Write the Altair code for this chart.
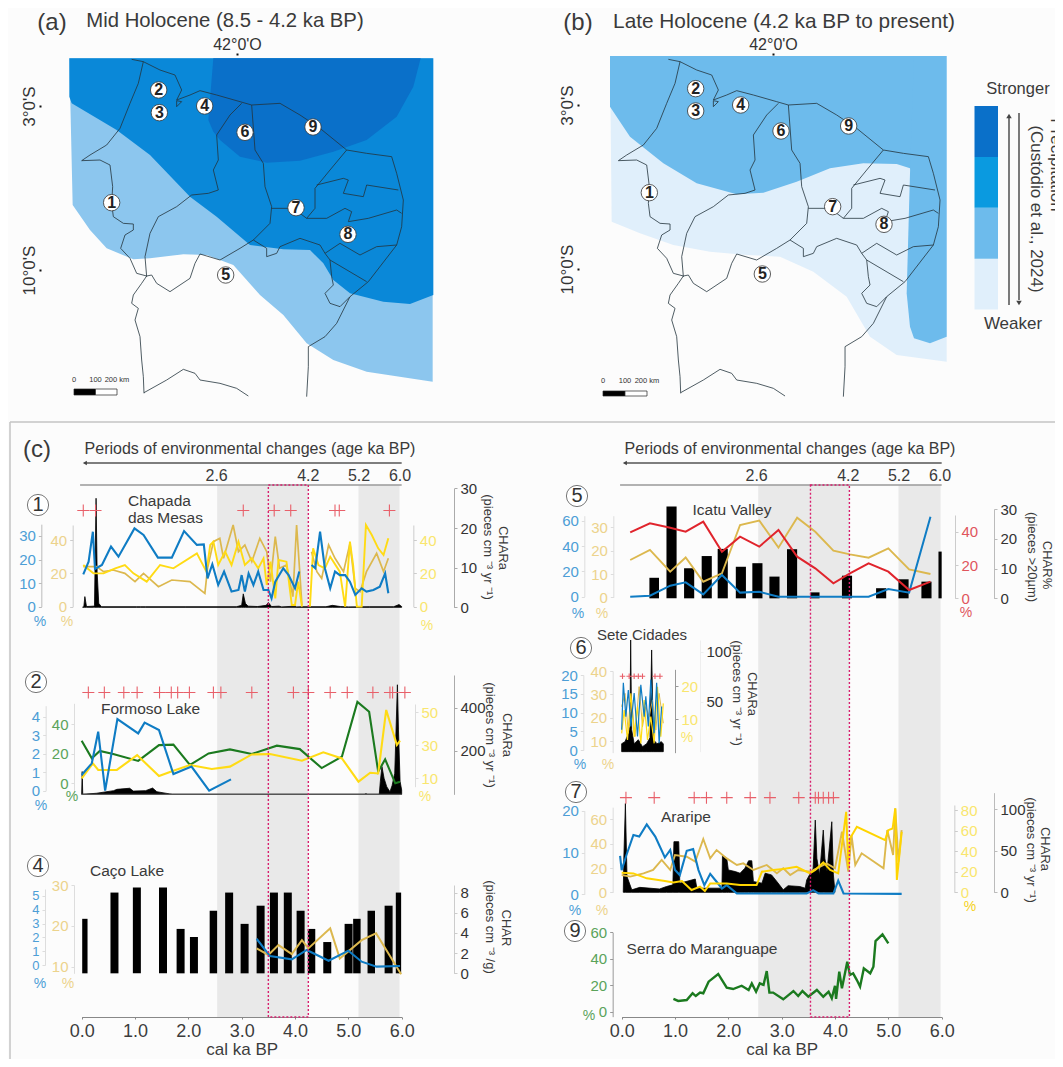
import altair as alt
import pandas as pd

W, H = 1047, 1051
FONT = "Liberation Sans"

# ---------- colours ----------
C_BLUE, C_OCHRE, C_YEL, C_RED, C_GREEN = "#0f7cc4", "#dcb84e", "#ffdb14", "#e0242c", "#1b7a1f"
L_BLUE, L_OCHRE, L_YEL, L_RED, L_GREEN = "#4d9ed6", "#ecd38c", "#f9e66e", "#e0555c", "#5aa35a"
Z_DARK, Z_MID, Z_LIGHT, Z_PALE, Z_MID_B = "#0a70c9", "#0a88d8", "#8cc6ee", "#e0effb", "#6dbbec"

# ---------- map: zone outlines (map grid units) ----------
A_LIGHT_X = [208, 218, 270, 320, 400, 450, 550, 620, 700, 780, 850, 920, 1000, 1100, 1298]
A_LIGHT_B = [175, 615, 690, 745, 778, 775, 763, 765, 795, 885, 945, 1030, 1080, 1115, 1145]
A_MID_X = [208, 215, 350, 450, 570, 650, 750, 850, 930, 970, 1000, 1050, 1150, 1230, 1300]
A_MID_B = [290, 310, 390, 465, 590, 650, 735, 748, 750, 790, 840, 880, 905, 912, 885]
A_DARK_X = [625, 640, 660, 720, 800, 900, 1000, 1100, 1190, 1240, 1262]
A_DARK_T = [360, 175, 175, 175, 175, 175, 175, 175, 175, 175, 175]
A_DARK_B = [360, 395, 420, 470, 488, 482, 455, 420, 350, 260, 175]
B_PALE_X = [240, 245, 330, 430, 540, 650, 750, 850, 950, 1020, 1100, 1250]
B_PALE_B = [168, 665, 700, 735, 755, 765, 770, 815, 890, 1010, 1065, 1085]
B_MID_X = [240, 300, 400, 500, 620, 700, 800, 900, 1000, 1100, 1140, 1152]
B_MID_B = [320, 410, 490, 550, 583, 578, 545, 505, 490, 492, 505, 530]
B_EAST_X = [1130, 1140, 1152, 1200, 1250]
B_EAST_T = [880, 520, 168, 168, 168]
B_EAST_B = [880, 980, 1015, 1030, 1010]

# ---------- map: boundaries (map grid units) ----------
BOUNDARIES = [
    [(430, 185), (415, 250), (390, 310), (360, 385), (320, 435), (270, 465), (245, 482)],
    [(245, 482), (300, 480), (330, 495), (338, 560), (335, 610), (340, 650), (370, 670), (400, 672), (400, 690), (375, 705), (362, 745), (390, 775), (410, 820), (440, 828)],
    [(440, 828), (425, 850), (400, 885), (395, 910), (415, 925), (405, 960), (420, 1010), (425, 1080), (430, 1130), (432, 1180)],
    [(432, 1178), (500, 1140), (550, 1108), (585, 1120), (600, 1140), (660, 1150), (710, 1165), (745, 1188)],
    [(395, 178), (430, 185), (480, 210), (525, 225), (545, 270), (530, 300), (570, 285), (600, 272), (650, 285), (720, 305), (755, 315), (840, 310), (900, 345), (960, 385), (1040, 450), (1100, 460), (1175, 470), (1190, 520), (1210, 600), (1205, 680), (1190, 735), (1105, 845), (1050, 890), (1010, 970), (975, 1010), (925, 1040), (925, 1100), (920, 1190)],
    [(725, 310), (690, 345), (650, 405), (655, 480), (640, 510), (655, 570), (625, 580), (575, 585), (530, 620), (475, 650), (450, 700), (435, 770), (440, 830)],
    [(755, 315), (765, 450), (790, 490), (795, 560), (815, 620), (810, 670), (760, 720), (720, 745), (660, 780), (600, 762), (585, 790), (570, 835), (510, 875), (470, 850), (455, 825), (440, 828)],
    [(815, 625), (880, 625), (920, 655), (945, 625), (945, 565), (990, 510), (1040, 450)],
    [(950, 555), (1030, 535), (1045, 540), (1030, 580), (1090, 590), (1100, 555), (1195, 570)],
    [(920, 655), (980, 655), (1035, 625), (1055, 635), (1045, 665), (1105, 655), (1190, 630), (1205, 640)],
    [(760, 720), (800, 745), (800, 770), (830, 760), (840, 740), (900, 715), (960, 735), (975, 760), (1020, 730), (1080, 765), (1130, 740), (1190, 735)],
    [(975, 760), (990, 780), (1100, 845)],
    [(990, 780), (995, 830), (1000, 855), (975, 880), (990, 910), (1020, 920), (1050, 890)],
    [(530, 320), (545, 305), (530, 302), (530, 320)],
]

SITE_IDS = ["1", "2", "3", "4", "5", "6", "7", "8", "9"]
SITES_A_X = [335, 476, 478, 614, 677, 735, 888, 1044, 939]
SITES_A_Y = [608, 270, 338, 318, 825, 397, 623, 703, 381]
SITES_B_X = [358, 497, 497, 632, 697, 753, 908, 1062, 956]
SITES_B_Y = [578, 266, 333, 315, 822, 393, 620, 673, 378]

# ---------- (1) Chapada das Mesas ----------
P1_BLUE_T = [.03, .13, .21, .25, .38, .55, .69, .99, 1.16, 1.43, 1.69, 1.92, 2.16, 2.29, 2.36, 2.45, 2.56, 2.67, 2.81, 2.94, 3.0, 3.06, 3.13, 3.22, 3.31, 3.41, 3.5, 3.56, 3.63, 3.78, 3.88, 4.0, 4.08, None, 4.31, 4.38, 4.47, 4.56, 4.66, 4.75, 4.84, 4.94, 5.03, 5.13, 5.25, 5.34, 5.47, 5.59, 5.69, 5.75]
P1_BLUE = [13.7, 19.1, 31.8, 16, 17.7, 25.5, 21.2, 33.2, 30.4, 20.8, 20.8, 32.1, 26.2, 26.4, 12, 18, 9.2, 14.9, 6.4, 7.1, 13.4, 6.4, 14.1, 9.2, 14.9, 7.1, 7.1, 3.5, 10.6, 16.3, 13.4, 7.8, 14.9, None, 17.7, 16.3, 31.8, 16.3, 7.8, 14.9, 13.4, 13.4, 10.6, 5, 7.8, 6.4, 7.1, 8.5, 14.1, 5.7]
P1_OCHRE_T = [.03, .28, .41, .59, .81, 1.0, 1.16, 1.44, 1.69, 2.03, 2.31, 2.36, 2.47, 2.59, 2.66, 2.84, 2.94, 3.06, 3.19, 3.34, 3.47, 3.54, 3.63, 3.71, 3.84, 3.96, 4.03, 4.13, None, 4.31, 4.41, 4.5, 4.63, 4.75, 4.91, 5.03, 5.13, 5.22, 5.34, 5.53, 5.66, 5.75]
P1_OCHRE = [24, 24, 21, 22, 20, 15, 20, 12, 16, 15, 8, 23, 39, 41, 29, 49, 33, 37, 27, 41, 33, 15, 42, 23, 25, 6, 49, 1, None, 33, 21, 17, 37, 29, 21, 38, 11, 9, 21, 32, 21, 29]
P1_YEL_T = [.03, .22, .41, .63, .81, .97, 1.22, 1.47, 1.72, 2.16, 2.34, 2.41, 2.47, 2.56, 2.69, 2.81, 2.94, 3.06, 3.19, 3.31, 3.41, 3.47, 3.54, 3.63, 3.69, 3.84, 3.94, 4.0, 4.06, 4.13, None, 4.28, 4.34, 4.44, 4.56, 4.66, 4.84, 4.94, 5.03, 5.09, 5.16, 5.25, 5.33, 5.44, 5.56, 5.66, 5.75]
P1_YEL = [25, 20, 20, 23, 25, 20, 15, 25, 23, 32, 21, 37, 39, 25, 33, 25, 39, 25, 29, 23, 29, 13, 27, 5, 28, 27, 1, 1, 15, 0, None, 0, 35, 25, 23, 30, 21, 0, 39, 25, 0, 0, 49, 43, 35, 31, 41]
P1_CHAR_T = [.02, .04, .06, .09, .22, .24, .27, .29, .32, .37, 1.03, None, 1.1, 1.2, None, 1.94, 2.9, 3.0, 3.03, 3.07, 3.12, 3.3, 3.46, 3.5, 3.56, 3.7, 3.75, 4.0, 4.03, 4.13, None, 4.58, 4.7, 4.85, 5.0, None, 5.4, 5.85, 5.95, 6.0]
P1_CHAR = [.1, .1, 2.7, .2, .3, .4, 27.5, 9, 1, .15, .15, None, .15, .15, None, .15, .15, .5, 3.4, 1, .3, .2, .5, 1.2, .2, .3, .1, .3, .1, .15, None, .15, .5, .2, .1, None, .15, .15, .7, .2]
P1_DATES = [.03, .26, 3.03, 3.61, 3.92, 4.75, 4.83, 5.77]

# ---------- (2) Formoso Lake ----------
P2_BLUE_T = [0, .19, .31, .44, .67, 1.06, 1.18, 1.45, 1.72, 2.06, 2.39, 2.8]
P2_BLUE = [.85, 1.48, 3.19, 0, 3.87, 3.1, 3.68, 3.28, .9, 1.3, 0, .61]
P2_GREEN_T = [0, .19, .34, .59, 1.06, 1.45, 1.72, 2.03, 2.38, 2.78, 3.19, 3.66, 4.09, 4.5, 4.88, 5.17, 5.39, 5.56, 5.69, 5.88, 5.97]
P2_GREEN = [28.8, 16.9, 21.8, 19.8, 15.1, 25.8, 26.1, 12.4, 20.2, 22.9, 19.8, 25.4, 23.1, 10.3, 18, 55, 48.3, 7.9, 16.2, 0, 1.1]
P2_YEL_T = [0, .21, .31, .66, 1.04, 1.45, 1.72, 2.03, 2.44, 2.78, 3.19, 3.53, 4.13, 4.53, 4.88, 5.19, 5.41, 5.56, 5.71, 5.91, 5.97]
P2_YEL = [10, 19.1, 15.1, 15.1, 24.1, 11.4, 14.6, 18.1, 15.7, 17.1, 24.5, 24.7, 20.7, 25.8, 22.1, 8, 13.4, 13, 51.4, 30.2, 32.8]
P2_CHAR_T = [0, .01, .02, .28, .6, .66, .9, .97, 1.2, 1.33, 1.41, 1.65, 1.7, 5.3, 5.33, 5.36, 5.58, 5.6, 5.63, 5.67, 5.72, 5.78, 5.82, 5.87, 5.92, 5.94, 5.97, 6.0]
P2_CHAR = [0, 105, 0, 5, 17, 23, 28, 15, 17, 29, 12, 2, 0, 0, 3, 0, 0, 60, 128, 74, 35, 12, 40, 97, 505, 297, 60, 20]
P2_DATES = [.125, .425, .79, 1.04, 1.46, 1.68, 1.8, 2.02, 2.47, 2.61, 3.19, 3.97, 4.25, 4.66, 4.98, 5.46, 5.78, 5.83, 6.06]

# ---------- (4) Caco Lake ----------
P4_BAR_T0 = [.01, .54, .96, 1.45, 1.78, 2.03, 2.4, 2.69, 2.98, 3.28, 3.53, 3.79, 4.03, 4.24, 4.53, 4.93, 5.09, 5.36, 5.68, 5.89]
P4_BAR_T1 = [.11, .69, 1.11, 1.6, 1.93, 2.18, 2.54, 2.84, 3.13, 3.43, 3.68, 3.94, 4.18, 4.38, 4.68, 5.08, 5.23, 5.5, 5.83, 5.99]
P4_CHAR = [5.4, 8, 8.5, 8.5, 4.4, 3.6, 6.2, 8, 4.9, 6.7, 8, 8, 6.2, 4.4, 3.1, 4.9, 5.4, 6.2, 6.7, 8]
P4_BLUE_T = [3.28, 3.53, 3.94, 4.22, 4.63, 5.0, 5.25, 5.53, 5.97]
P4_BLUE = [1.9, .65, .41, 1.09, .31, 1.04, .24, -.12, -.07]
P4_OCHRE_T = [3.28, 3.5, 3.69, 3.94, 4.13, 4.25, 4.66, 4.84, 5.25, 5.52, 5.99]
P4_OCHRE = [14.5, 12.9, 15.3, 13.1, 16.5, 14.5, 19.4, 12, 16.5, 18.2, 8.2]

# ---------- (5) Icatu Valley ----------
P5_BAR_T0 = [.52, .84, 1.17, 1.5, 1.8, 2.14, 2.45, 2.77, 3.1, 3.54, 4.13, 4.77, 5.19, 5.62, 5.94]
P5_BAR_T1 = [.7, 1.03, 1.36, 1.69, 1.99, 2.33, 2.64, 2.96, 3.29, 3.71, 4.32, 4.96, 5.38, 5.81, 6.0]
P5_CHAR = [6.9, 30.8, 10.1, 14.2, 16.6, 10.6, 11.8, 7.3, 16.5, 2, 7.6, 3.4, 6.4, 5.6, 15.7]
P5_T = [.16, .53, .91, 1.2, 1.53, 1.88, 2.22, 2.58, 2.94, 3.29, 3.63, 3.97, 4.28, 4.63, 5.0, 5.39, 5.79]
P5_RED = [39.6, 45, 42.4, 40, 46, 28, 37, 31, 41, 25, 18, 9, 15, 21, 16, 5, 10]
P5_OCHRE = [16, 20.3, 11, 17.1, 6.7, 10.3, 31, 32.9, 21.3, 34.1, 28.1, 20, 18.4, 17, 21, 12, 10]
P5_BLUE = [0, .8, 8.7, 11.3, 1.8, 17.1, 3.2, 3.9, 0, 0, 0, 0, 0, 0, 6.1, 3.2, 63.2]

# ---------- (6) Sete Cidades ----------
P6_BLUE_T = [0, .04, .1, .16, .22, .3, .38, .46, .54, .58, .64, .7, .78, .84, .9, .96]
P6_BLUE = [5.4, 17.9, 8.9, 16, 6.3, 15.2, 3.6, 17.4, 8.9, 14.3, 6.3, 18.8, 4.5, 17.9, 1.8, 11.6]
P6_OCHRE_T = [0, .08, .16, .24, .32, .42, .5, .58, .66, .74, .82, .9, 1]
P6_OCHRE = [24.7, 30.4, 13.3, 27.6, 11.9, 33.3, 16.1, 24.7, 20.4, 27.6, 14.7, 30.4, 17.6]
P6_YEL_T = [0, .06, .14, .22, .3, .38, .46, .54, .62, .7, .78, .86, .94, 1]
P6_YEL = [5.8, 12.8, 3.8, 17.8, 4.8, 13.8, 2.8, 15.8, 3.8, 10.8, 2.8, 19.8, 4.8, 14.8]
P6_CHAR_T = [0, .08, .16, .2, .216, .24, .3, .4, .5, .6, .68, .72, .76, .85, .95, 1]
P6_CHAR = [8, 10, 18, 25, 112, 22, 8, 12, 5, 8, 14, 102, 12, 8, 10, 8]
P6_DATES = [.02, .18, .3, .4, .5, .8, .92]

# ---------- (7) Araripe ----------
P7_BLUE_T = [-.03, 0, .09, .22, .33, .47, .63, .81, .91, 1, 1.09, 1.22, 1.34, 1.44, 1.55, 1.66, 1.78, 1.88, 1.97, 2.16, 2.53, 2.84, 3.47, 3.59, 3.69, 3.97, 4.06, 4.16, 5.25]
P7_BLUE = [9.2, 5.8, 9.4, 14.2, 13.8, 16.7, 13.8, 8.8, 10.6, 5.8, 4.6, 10.4, 10.8, 5.8, 2.2, 4.9, 3, 1.4, 2.2, .2, .2, .2, .2, 1, .2, .2, 3.3, .2, .1]
P7_OCHRE_T = [0, .16, .41, .59, .75, .91, 1, 1.22, 1.38, 1.53, 1.66, 1.78, 1.97, 2.16, 2.28, 2.47, 2.72, 2.91, 3.03, 3.16, 3.31, 3.53, 3.66, 3.84, 4, 4.13, 4.25, 4.31, 4.38, 4.5, 4.91, 4.98, 5.09, 5.13, 5.19, 5.25]
P7_OCHRE = [14.2, 12.9, 15.6, 18.4, 26.6, 18.4, 30.7, 29.3, 25.2, 43.8, 27.9, 34.8, 27.9, 22.5, 23.8, 18.4, 22.5, 15.6, 19.7, 14.2, 18.4, 17, 19.7, 23.8, 19.7, 49.9, 17, 47.1, 22.5, 32.1, 19.7, 51.2, 30.7, 69, 25.2, 51.2]
P7_YEL_T = [0, .22, .47, .81, .97, 1.13, 1.31, 1.47, 1.56, 1.66, 1.97, 2.22, 2.53, 2.63, 2.84, 3.03, 3.28, 3.53, 3.63, 3.78, 3.91, 4.06, 4.21, 4.25, 4.28, 4.41, 4.94, 5, 5.08, 5.13, 5.16, 5.25]
P7_YEL = [19.1, 18.4, 13.6, 11, 9.7, 11, 2.3, 5.5, 1.3, 8.7, 8.7, 7.1, 7.1, 20.1, 21.7, 22.7, 24.9, 18.4, 21.7, 29.1, 21.7, 18.4, 78.3, 23.3, 52.4, 63.8, 50.8, 60.5, 62.1, 81.6, 12, 58.9]
P7_CHAR_T = [.03, .04, .07, .1, .19, .34, .71, .84, .96, .98, 1.07, 1.09, 1.38, 1.41, 1.88, 1.89, 1.97, 2, 2.13, 2.22, 2.31, 2.38, 2.44, 2.47, 2.63, 2.69, 2.81, 2.91, 3.03, 3.12, 3.34, 3.44, 3.47, 3.59, 3.63, 3.66, 3.71, 3.78, 3.81, 3.85, 3.94, 3.97, 4]
P7_CHAR = [0, 40, 107, 19, 3, 6, 4, 7, 9, 61, 61, 11, 16, 5, 5, 45, 41, 27, 25, 23, 29, 38, 38, 13, 11, 23, 21, 13, 3, 8, 7, 5, 15, 29, 87, 41, 21, 75, 41, 25, 85, 21, 0]
P7_DATES = [.08, .61, 1.36, 1.59, 1.97, 2.41, 2.78, 3.32, 3.63, 3.69, 3.78, 3.88, 3.97]

# ---------- (9) Serra do Maranguape ----------
P9_T = [.97, 1.06, 1.22, 1.33, 1.39, 1.47, 1.53, 1.63, 1.81, 1.97, 2.09, 2.25, 2.38, 2.44, 2.52, 2.59, 2.66, 2.72, 2.77, 2.84, 3.03, 3.22, 3.31, 3.39, 3.5, 3.66, 3.78, 3.88, 3.94, 4, 4.02, 4.08, 4.13, 4.23, 4.28, 4.34, 4.41, 4.47, 4.54, 4.66, 4.72, 4.76, 4.89, 5]
P9_GREEN = [9.6, 8.1, 8.8, 13.9, 11.8, 14.4, 13.9, 22.7, 28.5, 18.1, 17.1, 19.6, 16.4, 21.4, 15.1, 21.4, 20.2, 30.7, 14.4, 14.4, 9.3, 15.6, 11.8, 15.6, 11.3, 16.4, 11.3, 15.1, 10.1, 19.6, 9.6, 30.2, 17.6, 37.8, 27.7, 29, 23.9, 18.9, 32.7, 29, 34, 53.4, 58.4, 51.6]

TIME_TICKS = [0, 1, 2, 3, 4, 5, 6]
PERIOD_T = [2.53, 4.25, 5.2, 5.97]
PERIOD_LABELS = ["2.6", "4.2", "5.2", "6.0"]
LEGEND_EDGES = [0, 1, 2, 3, 4]
LEGEND_COLOURS = [Z_PALE, Z_MID_B, "#0a9ae0", Z_DARK]
SCALE_KM = [0, 100, 200]

# ---------- helpers ----------
layers = []
ONE = alt.Data(values=[{"a": 1}])


def linear(lo, hi, p_lo, p_hi):
    return alt.Scale(domain=[lo, hi], range=[p_lo - 8, p_hi - 8], nice=False, zero=False)


def ysc(y0, z_lo, z_hi, lo, hi):
    return linear(lo, hi, y0 + z_lo / 3, y0 + z_hi / 3)


def ax(orient, z, ox, values, color, dom=None, size=15, **kw):
    pos = ox + z / 3 - 8
    offset = -pos if orient == "left" else pos - W
    return alt.Axis(orient=orient, offset=offset, values=values, title=None, grid=False, labelColor=color,
                    tickColor=dom or color, domainColor=dom or color, labelFont=FONT, labelFontSize=size,
                    tickSize=3, labelPadding=3, domainWidth=1, format="d", labelFlush=False, labelOverlap=False, **kw)


def line(t, v, xs, ys, color, width=2.0, axis=None, opacity=1.0):
    df = pd.DataFrame({"t": t, "v": v, "i": range(len(t))})
    layers.append(alt.Chart(df).mark_line(color=color, strokeWidth=width, opacity=opacity).encode(
        x=alt.X("t:Q", scale=xs, axis=None), y=alt.Y("v:Q", scale=ys, axis=axis), order="i:Q"))


def black_area(t, v, xs, ys, axis=None):
    df = pd.DataFrame({"t": t, "v": v, "b": [None if q is None else 0 for q in v]})
    layers.append(alt.Chart(df).mark_area(color="#000000", stroke="#000000", strokeWidth=0.8, orient="vertical").encode(
        x=alt.X("t:Q", scale=xs, axis=None), y=alt.Y("v:Q", scale=ys, axis=axis), y2="b:Q"))


def bars(t0, t1, v, xs, ys, axis=None):
    df = pd.DataFrame({"t0": t0, "t1": t1, "v": v, "b": [0] * len(v)})
    layers.append(alt.Chart(df).mark_rect(color="#000000").encode(
        x=alt.X("t0:Q", scale=xs, axis=None), x2="t1:Q", y=alt.Y("v:Q", scale=ys, axis=axis), y2="b:Q"))


def crosses(t, level, xs, ys, size=144):
    df = pd.DataFrame({"t": t, "v": [level] * len(t)})
    layers.append(alt.Chart(df).mark_point(shape="M-1,0L1,0M0,-1L0,1", filled=False, stroke="#e8606a",
                                           strokeWidth=1.1, size=size, opacity=1).encode(
        x=alt.X("t:Q", scale=xs, axis=None), y=alt.Y("v:Q", scale=ys, axis=None)))


def note(text, x, y, size=15, color="#3a3a3a", angle=0, align="center"):
    layers.append(alt.Chart(ONE).mark_text(text=text, font=FONT, fontSize=size, color=color, angle=angle,
                                           align=align, baseline="middle").encode(
        x=alt.value(x - 8), y=alt.value(y - 8)))


def rule(x0, y0, x1, y1, color="#555555", width=1.2):
    layers.append(alt.Chart(ONE).mark_rule(color=color, strokeWidth=width).encode(
        x=alt.value(x0 - 8), x2=alt.value(x1 - 8), y=alt.value(y0 - 8), y2=alt.value(y1 - 8)))


def arrowhead(x, y, shape, size=30, color="#444444"):
    layers.append(alt.Chart(ONE).mark_point(shape=shape, filled=True, color=color, size=size, opacity=1).encode(
        x=alt.value(x - 8), y=alt.value(y - 8)))


def ring(label, x, y):
    layers.append(alt.Chart(ONE).mark_point(shape="circle", filled=True, fill="#ffffff", stroke="#777777",
                                            strokeWidth=1, size=450, opacity=1).encode(
        x=alt.value(x - 8), y=alt.value(y - 8)))
    note(label, x, y, size=20, color="#333333")


def zone(x, top, bottom, xs, ys, color):
    df = pd.DataFrame({"x": x, "a": top, "b": bottom})
    layers.append(alt.Chart(df).mark_area(color=color, orient="vertical", opacity=1).encode(
        x=alt.X("x:Q", scale=xs, axis=None), y=alt.Y("a:Q", scale=ys, axis=None), y2="b:Q"))


def boundaries(xs, ys):
    rows = []
    for k, seg in enumerate(BOUNDARIES):
        for i, (bx, by) in enumerate(seg):
            rows.append({"id": k, "i": i, "x": bx, "y": by})
    layers.append(alt.Chart(pd.DataFrame(rows)).mark_line(color="#23343c", strokeWidth=0.8).encode(
        x=alt.X("x:Q", scale=xs, axis=None), y=alt.Y("y:Q", scale=ys, axis=None), detail="id:N", order="i:Q"))


def sites(x, y, xs, ys):
    df = pd.DataFrame({"x": x, "y": y, "s": SITE_IDS})
    layers.append(alt.Chart(df).mark_point(shape="circle", filled=True, fill="#ffffff", stroke="#333333",
                                           strokeWidth=0.8, size=270, opacity=1).encode(
        x=alt.X("x:Q", scale=xs, axis=None), y=alt.Y("y:Q", scale=ys, axis=None)))
    layers.append(alt.Chart(df).mark_text(font=FONT, fontSize=16, fontWeight="bold", color="#222222", baseline="middle").encode(
        x=alt.X("x:Q", scale=xs, axis=None), y=alt.Y("y:Q", scale=ys, axis=None), text="s:N"))


def scale_bar(p0, p1, y0, y1, label_y):
    xs = linear(SCALE_KM[0], SCALE_KM[-1], p0, p1)
    df = pd.DataFrame({"a": SCALE_KM[:-1], "b": SCALE_KM[1:], "c": ["#000000", "#ffffff"]})
    layers.append(alt.Chart(df).mark_rect(stroke="#222222", strokeWidth=0.7).encode(
        x=alt.X("a:Q", scale=xs, axis=None), x2="b:Q", y=alt.value(y0 - 8), y2=alt.value(y1 - 8),
        color=alt.Color("c:N", scale=None)))
    df2 = pd.DataFrame({"a": SCALE_KM, "s": ["0", "100", "200 km"], "d": [0, 0, 9]})
    layers.append(alt.Chart(df2).mark_text(font=FONT, fontSize=7.5, color="#333333").encode(
        x=alt.X("a:Q", scale=xs, axis=None), xOffset=alt.XOffset("d:Q", scale=None), y=alt.value(label_y - 8), text="s:N"))


def graticule(x_tick, y3, y10, tick_x, lon_y):
    lon = linear(-43, -41, x_tick - 23.4, x_tick + 23.4)
    lat = linear(-3, -10, y3, y10)
    layers.append(alt.Chart(pd.DataFrame({"lon": [-42]})).mark_point(opacity=0).encode(
        x=alt.X("lon:Q", scale=lon, axis=alt.Axis(orient="top", offset=-(lon_y - 8), values=[-42], domain=False, grid=False,
                title=None, tickSize=2, tickColor="#111111", tickWidth=2, labelFont=FONT, labelFontSize=16,
                labelColor="#333333", labelPadding=1, labelExpr="'42°0\\'O'")),
        y=alt.value(0)))
    layers.append(alt.Chart(pd.DataFrame({"lat": [-3, -10]})).mark_point(opacity=0).encode(
        y=alt.Y("lat:Q", scale=lat, axis=alt.Axis(orient="left", offset=-(tick_x - 8), values=[-3, -10], domain=False, grid=False,
                title=None, tickSize=2, tickColor="#111111", tickWidth=2, labelFont=FONT, labelFontSize=17,
                labelColor="#333333", labelPadding=1, labelAngle=-90, labelAlign="center", labelBaseline="bottom",
                labelFlush=False, labelOverlap=False,
                labelExpr="datum.value == -3 ? '3°0\\'S' : '10°0\\'S'")),
        x=alt.value(0)))


def time_frame(xs, band_t):
    frame = linear(0, 1, 485, 1017)
    df = pd.DataFrame({"t0": band_t[0], "t1": band_t[1], "a": [0, 0], "b": [1, 1]})
    axis = alt.Axis(orient="bottom", offset=1017 - 8 - H, values=TIME_TICKS, format=".1f", title="cal ka BP", grid=False,
                    labelFont=FONT, labelFontSize=18, labelColor="#3c3c3c", titleFont=FONT, titleFontSize=17,
                    titleFontWeight="normal", titleColor="#3c3c3c", titlePadding=1, tickSize=2, tickColor="#888888",
                    domainColor="#888888", labelPadding=3, labelFlush=False, labelOverlap=False)
    layers.append(alt.Chart(df).mark_rect(color="#e9e9e9").encode(
        x=alt.X("t0:Q", scale=xs, axis=axis), x2="t1:Q", y=alt.Y("a:Q", scale=frame, axis=None), y2="b:Q"))
    # period header: labels, rule and arrow
    lab = pd.DataFrame({"t": PERIOD_T, "s": PERIOD_LABELS})
    layers.append(alt.Chart(lab).mark_text(font=FONT, fontSize=16, color="#3a3a3a", baseline="middle").encode(
        x=alt.X("t:Q", scale=xs, axis=None), y=alt.value(476 - 8), text="s:N"))
    head = pd.DataFrame({"a": [-.03], "b": [6]})
    layers.append(alt.Chart(head).mark_rule(color="#9a9a9a", strokeWidth=1.5).encode(
        x=alt.X("a:Q", scale=xs, axis=None), x2="b:Q", y=alt.value(485 - 8)))
    arr = pd.DataFrame({"a": [.06], "b": [6]})
    layers.append(alt.Chart(arr).mark_rule(color="#555555", strokeWidth=1.3).encode(
        x=alt.X("a:Q", scale=xs, axis=None), x2="b:Q", y=alt.value(463 - 8)))
    layers.append(alt.Chart(arr).mark_point(shape="triangle-left", filled=True, color="#444444", size=22, opacity=1).encode(
        x=alt.X("a:Q", scale=xs, axis=None), y=alt.value(463 - 8)))


def dashed(xs, dash_t):
    frame = linear(0, 1, 485, 1017)
    df = pd.DataFrame({"t0": [dash_t[0]], "t1": [dash_t[1]], "a": [0], "b": [1]})
    layers.append(alt.Chart(df).mark_rect(filled=False, stroke="#d81f6e", strokeWidth=1.4, strokeDash=[2, 2]).encode(
        x=alt.X("t0:Q", scale=xs, axis=None), x2="t1:Q", y=alt.Y("a:Q", scale=frame, axis=None), y2="b:Q"))


# ---------- map (a) ----------
MAXA = alt.Scale(domain=[0, 1590], range=[0 - 8, 530 - 8], nice=False, zero=False)
MAY = alt.Scale(domain=[0, 1260], range=[0 - 8, 420 - 8], nice=False, zero=False)
zone(A_LIGHT_X, [175] * len(A_LIGHT_X), A_LIGHT_B, MAXA, MAY, Z_LIGHT)
zone(A_MID_X, [175] * len(A_MID_X), A_MID_B, MAXA, MAY, Z_MID)
zone(A_DARK_X, A_DARK_T, A_DARK_B, MAXA, MAY, Z_DARK)
boundaries(MAXA, MAY)
sites(SITES_A_X, SITES_A_Y, MAXA, MAY)
scale_bar(74, 117, 389, 395, 380)
graticule(237, 106, 270, 41, 55)
note("(a)", 52, 23, size=24)
note("Mid Holocene (8.5 - 4.2 ka BP)", 225, 21, size=20.3)

# ---------- map (b) ----------
MBXZ = alt.Scale(domain=[0, 1599], range=[530 - 8, 1063 - 8], nice=False, zero=False)
MBX = alt.Scale(domain=[0, 1590], range=[536.7 - 8, 1066.7 - 8], nice=False, zero=False)
zone(B_PALE_X, [168] * len(B_PALE_X), B_PALE_B, MBXZ, MAY, Z_PALE)
zone(B_MID_X, [168] * len(B_MID_X), B_MID_B, MBXZ, MAY, Z_MID_B)
zone(B_EAST_X, B_EAST_T, B_EAST_B, MBXZ, MAY, Z_MID_B)
boundaries(MBX, MAY)
sites(SITES_B_X, SITES_B_Y, MBXZ, MAY)
scale_bar(603, 647, 391, 396, 381)
graticule(773, 105, 269, 579, 55)
note("(b)", 578, 23, size=24)
note("Late Holocene (4.2 ka BP to present)", 784, 22, size=20.8)

# legend
leg = pd.DataFrame({"a": LEGEND_EDGES[:-1], "b": LEGEND_EDGES[1:], "c": LEGEND_COLOURS})
layers.append(alt.Chart(leg).mark_rect().encode(
    y=alt.Y("a:Q", scale=linear(0, 4, 309.5, 106), axis=None), y2="b:Q", x=alt.value(966.5), x2=alt.value(990),
    color=alt.Color("c:N", scale=None)))
rule(1009, 118, 1009, 305, color="#444444", width=1.4)
rule(1019, 113, 1019, 300, color="#444444", width=1.4)
arrowhead(1009, 116, "triangle-up")
arrowhead(1019, 303, "triangle-down")
note("Stronger", 1018, 89, size=16.5)
note("Weaker", 1013, 324, size=17)
note("(Custódio et al., 2024)", 1036, 209, size=17, angle=90)
note("Precipitation", 1056, 165, size=17, angle=90)

# frame of panel (c)
rule(10, 422, W + 8, 422, color="#c4c4c4", width=1.5)
rule(10, 422, 10, H + 8, color="#c4c4c4", width=1.5)
note("(c)", 37, 450, size=24)
note("Periods of environmental changes (age ka BP)", 250, 449, size=16)
note("Periods of environmental changes (age ka BP)", 790, 449, size=16)

XL = linear(0, 6, 81.67, 401.67)
XR = linear(0, 6, 621.67, 941.67)
time_frame(XL, ([2.54, 5.19], [4.25, 5.96]))
time_frame(XR, ([2.56, 5.19], [4.27, 5.98]))

# ---------- (1) ----------
Y0 = 425
black_area(P1_CHAR_T, P1_CHAR, XL, ysc(Y0, 547, 190, 0, 30), ax("right", 1362, 0, [0, 10, 20, 30], "#333333", dom="#aaaaaa"))
line(P1_OCHRE_T, P1_OCHRE, XL, ysc(Y0, 545, 300, 0, 49), C_OCHRE, 1.7, ax("left", 218, 0, [0, 20, 40], L_OCHRE, dom="#cccccc"))
line(P1_YEL_T, P1_YEL, XL, ysc(Y0, 545, 300, 0, 49), C_YEL, 1.9, ax("right", 1240, 0, [0, 20, 40], L_YEL, dom="#cccccc"))
line(P1_BLUE_T, P1_BLUE, XL, ysc(Y0, 545, 297.5, 0, 35), C_BLUE, 2.1, ax("left", 124, 0, [0, 10, 20, 30], L_BLUE, dom="#bbbbbb"))
crosses(P1_DATES, 24.4, XL, ysc(Y0, 547, 190, 0, 30))
ring("1", 38, 505)
note("Chapada", 128, 501, size=15.5, align="left")
note("das Mesas", 128, 518, size=15.5, align="left")
note("%", 40, 622, color=L_BLUE, size=14)
note("%", 67, 622, color=L_OCHRE, size=14)
note("%", 427, 626, color=L_YEL, size=14)
note("CHARa", 503, 548, size=13, angle=90)
note("(pieces cm ⁻³ yr ⁻¹)", 488, 547, size=13, angle=90)

# ---------- (2) ----------
Y0 = 650
black_area(P2_CHAR_T, P2_CHAR, XL, ysc(Y0, 433, 75, 0, 550), ax("right", 1362, 0, [200, 400], "#333333", dom="#aaaaaa"))
line([0, 6], [0, 0], XL, ysc(Y0, 433, 75, 0, 550), "#555555", 1.4)
line(P2_GREEN_T, P2_GREEN, XL, ysc(Y0, 431, 160, -7, 54), C_GREEN, 2.1, ax("left", 222, 0, [0, 20, 40], L_GREEN, dom="#dddddd"))
line(P2_YEL_T, P2_YEL, XL, ysc(Y0, 410, 162, 5, 55), C_YEL, 2.1, ax("right", 1245, 0, [10, 30, 50], L_YEL, dom="#dddddd"))
line(P2_BLUE_T, P2_BLUE, XL, ysc(Y0, 422, 167, 0, 4.6), C_BLUE, 2.1, ax("left", 137, 0, [0, 1, 2, 3, 4], L_BLUE, dom="#dddddd"))
crosses(P2_DATES, 469, XL, ysc(Y0, 433, 75, 0, 550))
ring("2", 36, 682)
note("Formoso Lake", 101, 709, size=15.5, align="left")
note("%", 41, 806, color=L_BLUE, size=14)
note("%", 72, 797, color=L_GREEN, size=14)
note("%", 425, 797, color=L_YEL, size=14)
note("CHARa", 507, 735, size=13, angle=90)
note("(pieces cm ⁻³ yr ⁻¹)", 490, 735, size=13, angle=90)

# ---------- (4) ----------
Y0 = 830
bars(P4_BAR_T0, P4_BAR_T1, P4_CHAR, XL, ysc(Y0, 430, 165, 0, 8.75), ax("right", 1362, 0, [0, 2, 4, 6, 8], "#333333", dom="#cccccc"))
line(P4_OCHRE_T, P4_OCHRE, XL, ysc(Y0, 430, 165, 8.4, 30), C_OCHRE, 2.0, ax("left", 222, 0, [10, 20, 30], L_OCHRE, dom="#dddddd"))
line(P4_BLUE_T, P4_BLUE, XL, ysc(Y0, 405, 177, 0, 5.5), C_BLUE, 2.1, ax("left", 135, 0, [0, 1, 2, 3, 4, 5], L_BLUE, dom="#dddddd", size=13))
ring("4", 38, 866)
note("Caço Lake", 127, 871, size=15.5)
note("%", 40, 984, color=L_BLUE, size=14)
note("%", 68, 984, color=L_OCHRE, size=14)
note("CHAR", 506, 928, size=13, angle=90)
note("(pieces cm ⁻³ /g)", 490, 927, size=13, angle=90)

# ---------- (5) ----------
Y0 = 425
bars(P5_BAR_T0, P5_BAR_T1, P5_CHAR, XR, ysc(Y0, 520, 252, 0, 30), ax("right", 1362, 540, [0, 10, 20, 30], "#333333", dom="#bbbbbb"))
line(P5_T, P5_OCHRE, XR, ysc(Y0, 517, 272, 0, 35), C_OCHRE, 1.9, ax("left", 220, 540, [0, 10, 20, 30], L_OCHRE, dom="#dddddd"))
line(P5_T, P5_BLUE, XR, ysc(Y0, 515, 272, 0, 64), C_BLUE, 2.0, ax("left", 133, 540, [0, 20, 40, 60], L_BLUE, dom="#dddddd"))
line(P5_T, P5_RED, XR, ysc(Y0, 520, 270, 0, 50), C_RED, 2.0, ax("right", 1245, 540, [0, 20, 40], L_RED, dom="#cccccc"))
ring("5", 577, 496)
note("Icatu Valley", 732, 510, size=15.5)
note("%", 578, 614, color=L_BLUE, size=14)
note("%", 602, 614, color=L_OCHRE, size=14)
note("%", 966, 613, color=L_RED, size=14)
note("CHAR%", 1047, 565, size=13, angle=90)
note("(pieces >20µm)", 1032, 557, size=13, angle=90)

# ---------- (6) ----------
Y0 = 650
X6 = linear(0, 1, 621.67, 663.3)
black_area(P6_CHAR_T, P6_CHAR, X6, ysc(Y0, 305, -30, 0, 112), ax("right", 480, 540, [50, 100], "#333333", dom="#eeeeee"))
line(P6_OCHRE_T, P6_OCHRE, X6, ysc(Y0, 308, 63, 5, 40), C_OCHRE, 1.0, ax("left", 218, 540, [10, 20, 30, 40], L_OCHRE, dom="#dddddd"))
line(P6_YEL_T, P6_YEL, X6, ysc(Y0, 308, 58, 0, 25), C_YEL, 1.2, ax("right", 405, 540, [10, 20], L_YEL, dom="#999999"))
line(P6_BLUE_T, P6_BLUE, X6, ysc(Y0, 300, 75, 0, 20), C_BLUE, 1.2, ax("left", 130, 540, [0, 5, 10, 15, 20], L_BLUE, dom="#dddddd"))
crosses(P6_DATES, 75.7, X6, ysc(Y0, 305, -30, 0, 112), size=30)
ring("6", 581, 648)
note("Sete Cidades", 642, 635, size=15)
note("%", 580, 765, color=L_BLUE, size=14)
note("%", 608, 765, color=L_OCHRE, size=14)
note("%", 687, 738, color=L_YEL, size=14)
note("CHARa", 752, 694, size=13, angle=90)
note("(pieces cm ⁻³ yr ⁻¹)", 737, 693, size=13, angle=90)

# ---------- (7) ----------
Y0 = 775
black_area(P7_CHAR_T, P7_CHAR, XR, ysc(Y0, 352, 53, 0, 120), ax("right", 1362, 540, [0, 50, 100], "#333333", dom="#bbbbbb"))
line(P7_OCHRE_T, P7_OCHRE, XR, ysc(Y0, 352, 96.5, 0, 70), C_OCHRE, 1.9, ax("left", 218, 540, [0, 20, 40, 60], L_OCHRE, dom="#dddddd"))
line(P7_BLUE_T, P7_BLUE, XR, ysc(Y0, 358, 107, 0, 20), C_BLUE, 2.1, ax("left", 133, 540, [0, 10, 20], L_BLUE, dom="#dddddd"))
line(P7_YEL_T, P7_YEL, XR, ysc(Y0, 352, 90, 0, 85), "#ffd400", 2.0, ax("right", 1243, 540, [0, 20, 40, 60, 80], L_YEL, dom="#cccccc"))
crosses(P7_DATES, 114, XR, ysc(Y0, 352, 53, 0, 120))
ring("7", 576, 792)
note("Araripe", 686, 817, size=15.5)
note("%", 575, 911, color=L_BLUE, size=14)
note("%", 602, 911, color=L_OCHRE, size=14)
note("%", 970, 907, color="#f5d21e", size=14)
note("CHARa", 1045, 849, size=13, angle=90)
note("(pieces cm ⁻³ yr ⁻¹)", 1031, 850, size=13, angle=90)

# ---------- (9) ----------
Y0 = 915
line(P9_T, P9_GREEN, XR, ysc(Y0, 305, 52, -3.8, 60), C_GREEN, 2.4, ax("left", 218, 540, [0, 20, 40, 60], L_GREEN, dom="#999999"))
ring("9", 575, 931)
note("Serra do Maranguape", 702, 949, size=15.5)
note("%", 589, 1016, color=L_GREEN, size=14)

dashed(XL, (3.5, 4.25))
dashed(XR, (3.54, 4.27))

chart = alt.layer(*layers).resolve_scale(x="independent", y="independent", color="independent").properties(
    width=W, height=H, padding=0, background="#fcfcfc", autosize=alt.AutoSizeParams(type="none")
).configure_view(stroke=None)

chart.save("out.html", embed_options={"renderer": "svg", "actions": False})
